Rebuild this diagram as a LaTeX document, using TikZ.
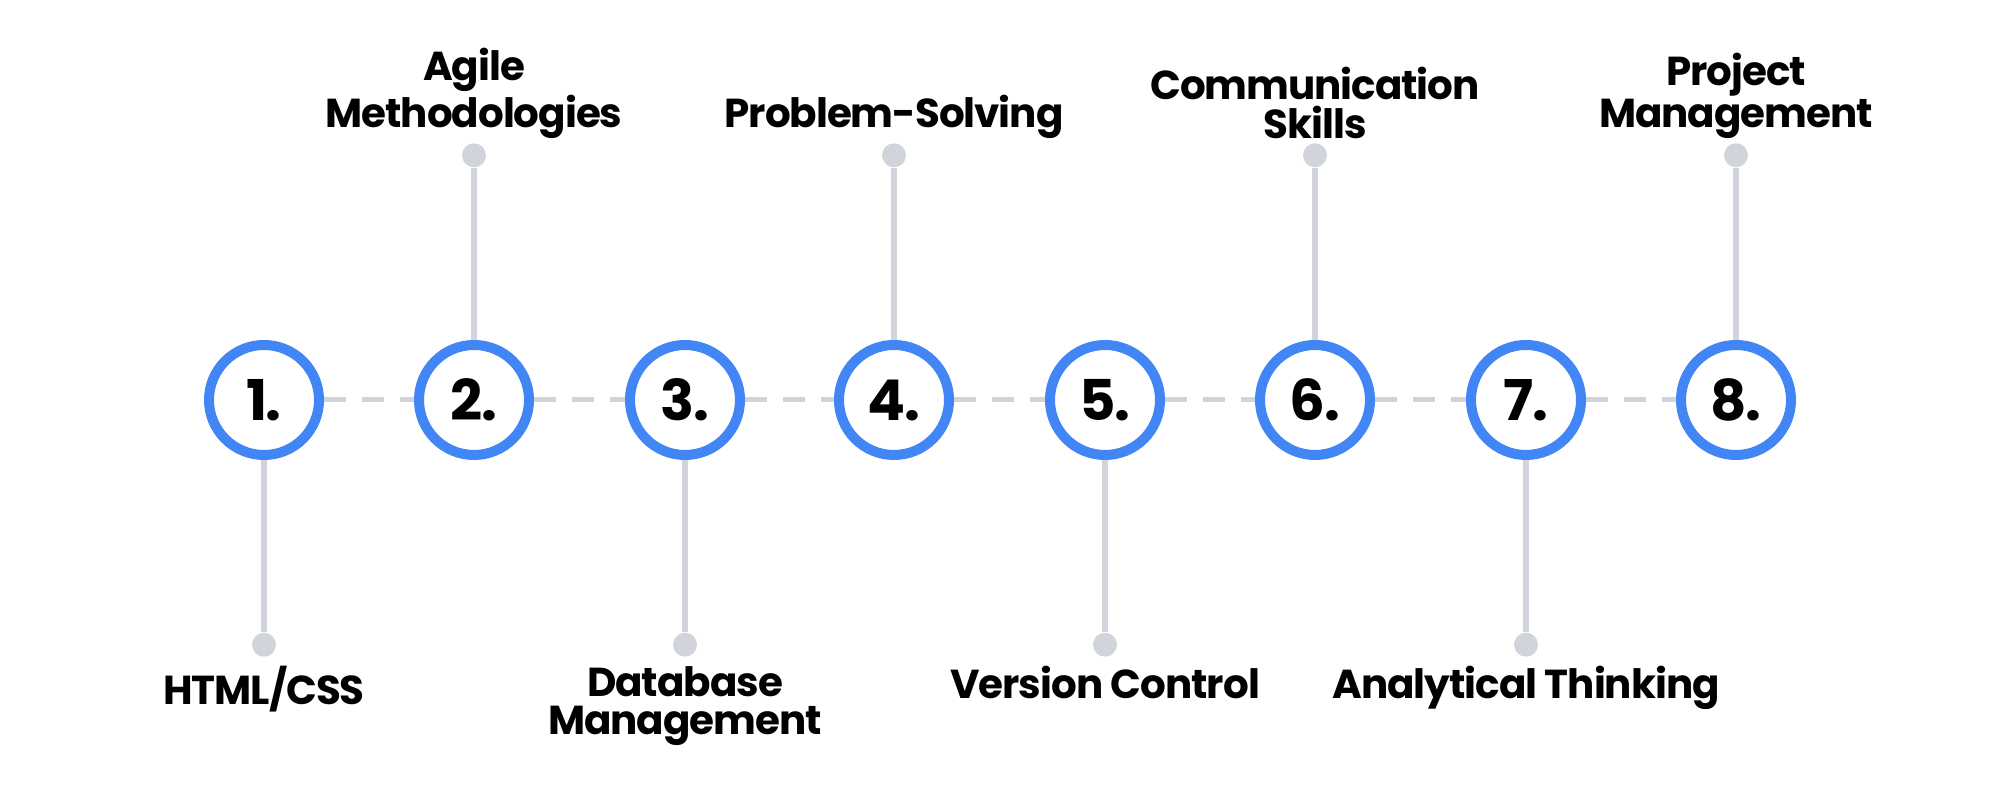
\documentclass[tikz,border=0pt]{standalone}
\usepackage{fontspec}
\setmainfont{Poppins}[LetterSpace=-2.5]
\usetikzlibrary{positioning}
\definecolor{stepblue}{HTML}{4285F4}
\definecolor{stemgray}{HTML}{D1D5DB}
\tikzset{
  stepcircle/.style={circle, draw=stepblue, line width=1.0mm, fill=white,
    minimum size=1.1cm, inner sep=0pt, font=\bfseries\fontsize{16}{16}\selectfont},
  stem/.style={draw=stemgray, line width=0.6mm},
  link/.style={draw=stemgray, line width=0.5mm, dashed, dash pattern=on 2.2mm off 1.6mm},
  enddot/.style={circle, fill=stemgray, minimum size=0.24cm, inner sep=0pt},
  caption/.style={align=center, inner sep=0pt, font=\bfseries\fontsize{11.5}{11}\selectfont}
}
\begin{document}
\begin{tikzpicture}
\useasboundingbox (0,0) rectangle (20,8);

% Place nodes
\foreach \n/\x in {1/2.64,2/4.74,3/6.85,4/8.94,5/11.05,6/13.15,7/15.26,8/17.36}
  \node [stepcircle] (s\n) at (\x,4) {\n.};

% Draw links
\foreach \a/\b in {1/2,2/3,3/4,4/5,5/6,6/7,7/8}
  \path [link] (s\a) -- (s\b);

% Stems up (even) and down (odd)
\foreach \n in {2,4,6,8}{
  \node [enddot, above=1.72cm of s\n] (d\n) {};
  \path [stem] (s\n) -- (d\n);
}
\foreach \n in {1,3,5,7}{
  \node [enddot, below=1.72cm of s\n] (d\n) {};
  \path [stem] (s\n) -- (d\n);
}

% Labels
\node [caption, above=0.03cm of d2] (t2) {Agile\\Methodologies};
\node [caption, above=0.03cm of d4] (t4) {Problem-Solving};
\node [caption, above=0.03cm of d6] (t6) {Communication\\Skills};
\node [caption, above=0.03cm of d8] (t8) {Project\\Management};
\node [caption, below=0.08cm of d1] (t1) {HTML/CSS};
\node [caption, below=0.08cm of d3] (t3) {Database\\Management};
\node [caption, below=0.08cm of d5] (t5) {Version Control};
\node [caption, below=0.08cm of d7] (t7) {Analytical Thinking};
\end{tikzpicture}
\end{document}
